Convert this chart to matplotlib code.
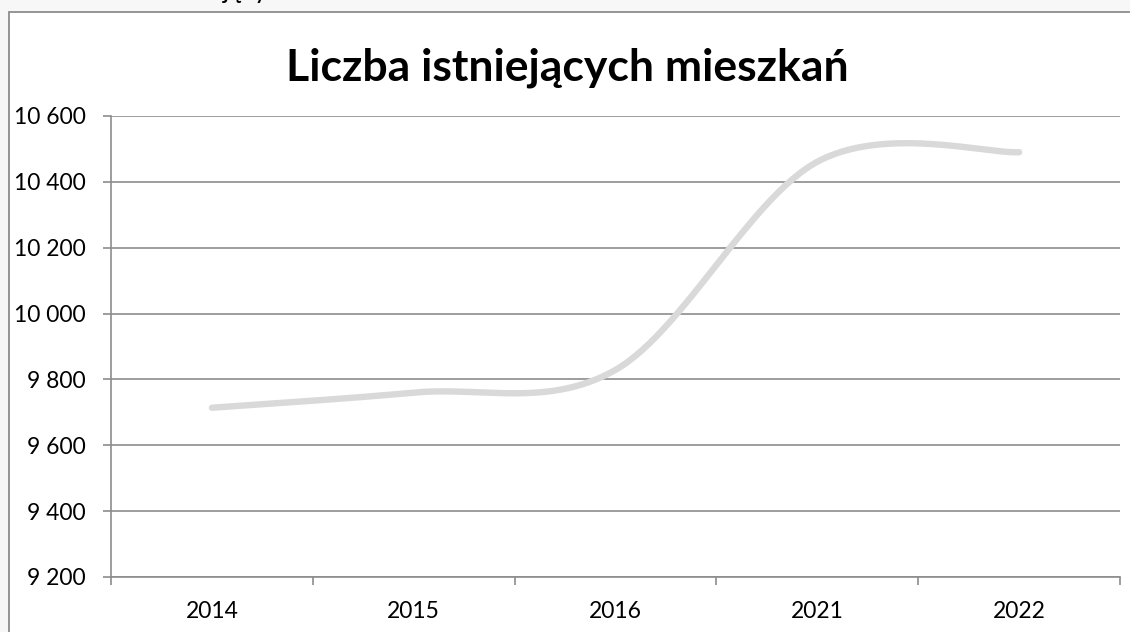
import matplotlib.pyplot as plt
import numpy as np
from matplotlib.patches import Rectangle
from matplotlib.ticker import FuncFormatter, MultipleLocator

lata = ["2014", "2015", "2016", "2021", "2022"]
mieszkania = [9714, 9760, 9829, 10461, 10490]

y_min, y_max, y_krok = 9200, 10600, 200

W, H = 1130, 632


def krzywa_wygladzona(xs, ys, n=60):
    # wygładzona linia jak w Excelu (Catmull-Rom -> Bezier)
    p = np.column_stack([xs, ys]).astype(float)
    p_ext = np.vstack([p[0], p, p[-1]])
    out = []
    for i in range(len(p) - 1):
        p0, p1, p2, p3 = p_ext[i], p_ext[i + 1], p_ext[i + 2], p_ext[i + 3]
        c1 = p1 + (p2 - p0) / 6
        c2 = p2 - (p3 - p1) / 6
        t = np.linspace(0, 1, n)[:, None]
        seg = (1 - t) ** 3 * p1 + 3 * (1 - t) ** 2 * t * c1 + 3 * (1 - t) * t ** 2 * c2 + t ** 3 * p2
        out.append(seg if i == 0 else seg[1:])
    out = np.vstack(out)
    return out[:, 0], out[:, 1]


plt.rcParams['font.family'] = ['Lato', 'DejaVu Sans']

fig = plt.figure(figsize=(W / 100, H / 100), dpi=100)
fig.patch.set_facecolor("#f7f7f7")

# ramka wykresu
fig.patches.append(Rectangle((8.5 / W, -0.1), 1.2, (H - 11.5) / H + 0.1, transform=fig.transFigure,
                             facecolor="white", edgecolor="#8c8c8c", linewidth=1.3, zorder=-5))

# ucięty podpis nad wykresem (widać tylko dolne końce liter)
fig.text(223 / W, (H + 2) / H, "Wykres 2. Liczba istnie", ha="right", va="baseline", fontsize=19, color="black")
fig.text(223 / W, (H + 2) / H, "jących mieszkań", ha="left", va="baseline", fontsize=19, color="black")

ax = fig.add_axes([111 / W, (H - 577) / H, (1120 - 111) / W, (577 - 116) / H])
ax.set_facecolor("white")

xs = np.arange(len(lata))
kx, ky = krzywa_wygladzona(xs, mieszkania)
ax.plot(kx, ky, color="#d9d9d9", linewidth=4.6, solid_capstyle="round", zorder=3)

ax.set_xlim(-0.5, len(lata) - 0.5)
ax.set_ylim(y_min, y_max)
ax.yaxis.set_major_locator(MultipleLocator(y_krok))
ax.yaxis.set_major_formatter(FuncFormatter(lambda v, _: f"{int(v):,}".replace(",", " ")))
ax.grid(axis="y", color="#8c8c8c", linewidth=1.2)
ax.set_axisbelow(True)

ax.set_xticks(xs)
ax.set_xticklabels(lata)
ax.set_xticks(np.arange(-0.5, len(lata)), minor=True)
ax.tick_params(axis="x", which="major", length=0, pad=17, labelsize=16.5)
ax.tick_params(axis="x", which="minor", length=6, width=1.2, color="#8c8c8c")
ax.tick_params(axis="y", length=6, width=1.2, color="#8c8c8c", pad=12, labelsize=16.5)

for s in ["top", "right"]:
    ax.spines[s].set_visible(False)
for s in ["left", "bottom"]:
    ax.spines[s].set_color("#8c8c8c")
    ax.spines[s].set_linewidth(1.2)

fig.text(567 / W, (H - 68) / H, "Liczba istniejących mieszkań", ha="center", va="center",
         fontsize=32, fontweight="bold", color="black")

fig.savefig("out.png", dpi=100, facecolor=fig.get_facecolor())
